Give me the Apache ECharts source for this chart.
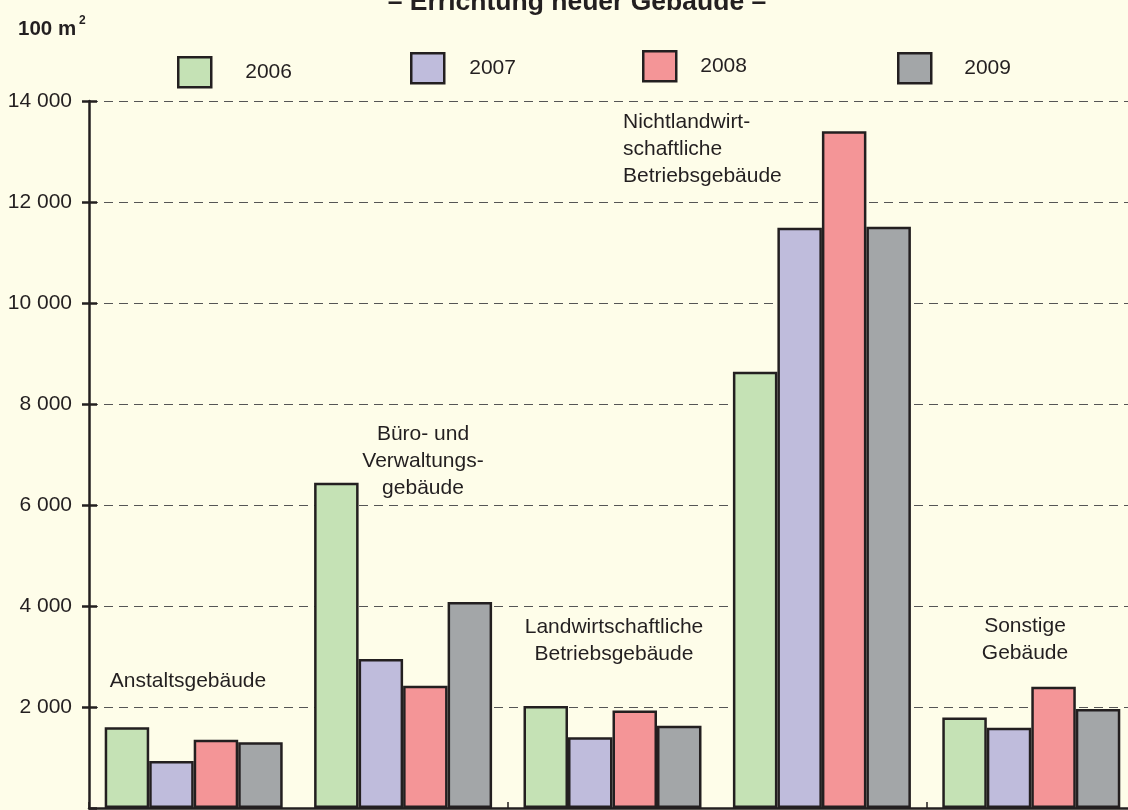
<!DOCTYPE html>
<html>
<head>
<meta charset="utf-8">
<script src="https://cdn.jsdelivr.net/npm/echarts@6/dist/echarts.min.js"></script>
<style>
html,body{margin:0;padding:0;background:#fefde9;overflow:hidden;width:1128px;height:810px;}
#chart{width:1136px;height:810px;}
</style>
</head>
<body>
<div id="chart"></div>
<script>
var categories = ['Anstaltsgebäude', 'Büro- und Verwaltungsgebäude', 'Landwirtschaftliche Betriebsgebäude', 'Nichtlandwirtschaftliche Betriebsgebäude', 'Sonstige Gebäude'];
var years = ['2006', '2007', '2008', '2009'];
var v2006 = [1600, 6440, 2020, 8640, 1790];
var v2007 = [930, 2950, 1400, 11490, 1590];
var v2008 = [1350, 2420, 1930, 13400, 2400];
var v2009 = [1300, 4080, 1630, 11510, 1960];
var yTicks = [0, 2000, 4000, 6000, 8000, 10000, 12000, 14000];

var FONT = '"Liberation Sans", Arial, sans-serif';
var INK = '#231f20';
var colors = ['#c5e2b5', '#bfbcdc', '#f49597', '#a3a6a8'];
var values = [v2006, v2007, v2008, v2009];

var chart = echarts.init(document.getElementById('chart'));

function fmt(v) {
  var s = String(v);
  return s.length > 3 ? s.slice(0, s.length - 3) + ' ' + s.slice(-3) : s;
}

var legendPos = [
  {left: 177, top: 56, gap: 29},
  {left: 410, top: 52, gap: 20},
  {left: 642, top: 50, gap: 19},
  {left: 897, top: 52, gap: 28}
];

var legends = years.map(function (y, i) {
  return {
    data: [y],
    left: legendPos[i].left,
    top: legendPos[i].top,
    padding: 0,
    icon: 'rect',
    itemWidth: 33,
    itemHeight: 30,
    selectedMode: false,
    itemStyle: {borderColor: INK, borderWidth: 2.5},
    textStyle: {fontFamily: FONT, fontSize: 21, color: INK, padding: [0, 0, 0, legendPos[i].gap]}
  };
});

var textStyleBase = {fontFamily: FONT, fontSize: 21, fill: INK};
function label(text, x, y, align) {
  return {
    type: 'text', x: x, y: y, z: 50,
    style: Object.assign({}, textStyleBase, {text: text, align: align || 'center', verticalAlign: 'middle', lineHeight: 27})
  };
}

var option = {
  backgroundColor: '#fefde9',
  animation: false,
  legend: legends,
  grid: {left: 89, right: 0, top: 101, bottom: 2, containLabel: false},
  xAxis: {
    type: 'category',
    data: categories,
    axisLabel: {show: false},
    axisLine: {lineStyle: {color: INK, width: 2.5}},
    axisTick: {show: true, inside: true, length: 6, lineStyle: {color: INK, width: 1.5}},
    splitLine: {show: false}
  },
  yAxis: [{
    type: 'value',
    position: 'left',
    min: yTicks[0],
    max: yTicks[yTicks.length - 1],
    interval: yTicks[1] - yTicks[0],
    axisLine: {show: true, lineStyle: {color: INK, width: 2.5}},
    axisTick: {show: true, length: 7, lineStyle: {color: INK, width: 2.5}},
    axisLabel: {margin: 17, showMinLabel: false, fontFamily: FONT, fontSize: 21, color: INK, formatter: fmt},
    splitLine: {show: true, lineStyle: {color: '#555555', width: 1, type: [9, 6]}}
  }, {
    type: 'value',
    position: 'left',
    min: yTicks[0],
    max: yTicks[yTicks.length - 1],
    interval: yTicks[1] - yTicks[0],
    axisLine: {show: false},
    axisTick: {show: true, inside: true, length: 8, lineStyle: {color: INK, width: 2.5}},
    axisLabel: {show: false},
    splitLine: {show: false}
  }],
  series: years.map(function (y, i) {
    return {
      name: y,
      type: 'bar',
      data: values[i],
      barGap: '0%',
      barCategoryGap: '15%',
      itemStyle: {color: colors[i], borderColor: INK, borderWidth: 2.5}
    };
  }),
  graphic: [
    {type: 'text', x: 577, y: 3, style: {text: '– Errichtung neuer Gebäude –', fontFamily: FONT, fontSize: 26.5, fontWeight: 'bold', fill: INK, align: 'center', verticalAlign: 'middle'}},
    {type: 'text', x: 18, y: 29, style: {text: '100 m', fontFamily: FONT, fontSize: 20.5, fontWeight: 'bold', fill: INK, align: 'left', verticalAlign: 'middle'}},
    {type: 'text', x: 79, y: 21, style: {text: '2', fontFamily: FONT, fontSize: 12, fontWeight: 'bold', fill: INK, align: 'left', verticalAlign: 'middle'}},
    label('Anstaltsgebäude', 188, 681),
    label('Büro- und\nVerwaltungs-\ngebäude', 423, 461),
    label('Landwirtschaftliche\nBetriebsgebäude', 614, 641),
    label('Nichtlandwirt-\nschaftliche\nBetriebsgebäude', 623, 149, 'left'),
    label('Sonstige\nGebäude', 1025, 640)
  ]
};

chart.setOption(option);
</script>
</body>
</html>
